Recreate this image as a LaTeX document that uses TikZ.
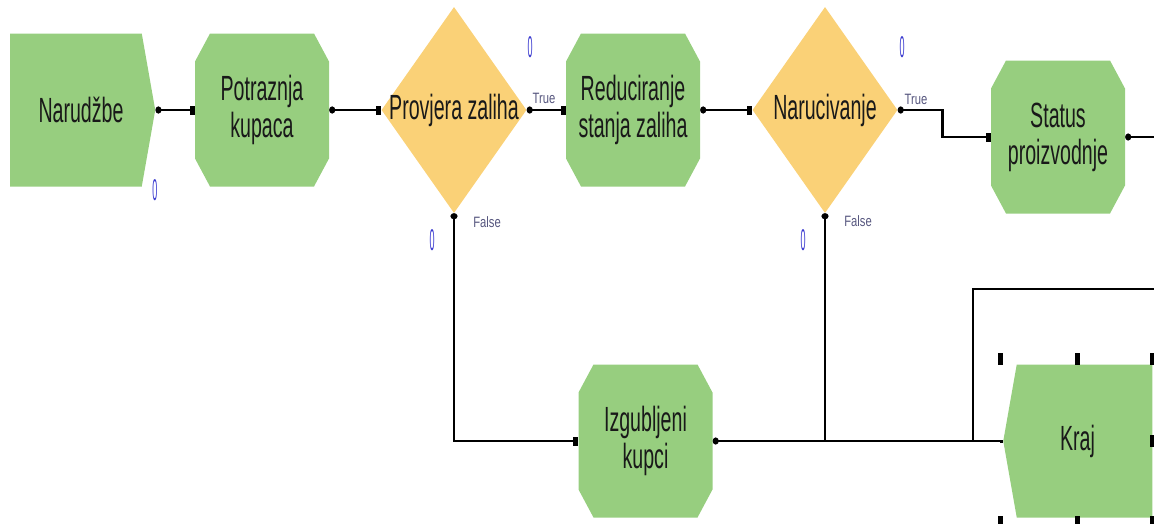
\documentclass[tikz,border=0pt]{standalone}
\usepackage{fontspec}
\setmainfont{Liberation Sans}[FakeStretch=0.56]
\newfontfamily\zerofont{Liberation Sans}[FakeStretch=0.3]
\newfontfamily\tagfont{Liberation Sans}[FakeStretch=0.75]
\usetikzlibrary{arrows.meta, positioning, shapes.geometric, shapes.symbols, calc}
\definecolor{blockgreen}{HTML}{97CE7F}
\definecolor{decideyellow}{HTML}{FAD177}
\definecolor{countblue}{HTML}{3A3ACF}
\definecolor{tagblue}{HTML}{56567E}

\begin{document}
\begin{tikzpicture}[x=1pt, y=-1pt,
    every node/.style={font=\fontsize{35}{37}\selectfont, text=black!90, inner sep=0pt, align=center},
    process/.style={rectangle, minimum width=134pt, minimum height=153pt, path picture={
        \fill[blockgreen] ($(path picture bounding box.north west)+(15,0)$)
            -- ($(path picture bounding box.north east)+(-15,0)$) -- ($(path picture bounding box.north east)+(0,28)$)
            -- ($(path picture bounding box.south east)+(0,-28)$) -- ($(path picture bounding box.south east)+(-15,0)$)
            -- ($(path picture bounding box.south west)+(15,0)$) -- ($(path picture bounding box.south west)+(0,-28)$)
            -- ($(path picture bounding box.north west)+(0,28)$) -- cycle;}},
    terminal/.style={signal, signal pointer angle=160, fill=blockgreen, minimum height=153pt},
    decide/.style={diamond, fill=decideyellow, minimum width=145pt, minimum height=206pt},
    count/.style={font=\zerofont\fontsize{30}{30}\selectfont, text=countblue},
    tag/.style={font=\tagfont\fontsize{15}{15}\selectfont, text=tagblue},
    flow/.style={line width=2.5pt, {Circle[length=6pt,width=7pt]}-{Square[length=5pt,width=9pt]}},
    branch/.style={line width=2pt, {Circle[length=6pt,width=7pt]}-},
    wire/.style={line width=2pt}
]
\useasboundingbox (0,0) rectangle (1154,523);
% Blocks
\node[terminal, signal to=east, minimum width=145pt, label={[xshift=5pt]center:Narudžbe}] (ordr) at (76,110) {};
\node[process] (potr) at (262,110) {Potraznja\\kupaca};
\node[decide, label=center:{Provjera zaliha}] (provj) at (454,110) {};
\node[process] (redu) at (633,110) {Reduciranje\\stanja zaliha};
\node[decide, label=center:{Narucivanje}] (naruc) at (825,110) {};
\node[process] (stat) at (1058,137) {Status\\proizvodnje};
\node[process] (izgub) at (645.5,441) {Izgubljeni\\kupci};
\node[terminal, signal to=west, minimum width=149pt, label={[xshift=-7pt]center:Kraj}] (kraj) at (1084.5,441) {};
% Free ends
\coordinate (statout) at (1154,137);
\coordinate (krajup) at (1154,289);
\coordinate (krajjoin) at ($(kraj.west)+(-30,0)$);
\coordinate (narjoin) at (naruc.south |- izgub.east);
% Connectors
\draw[flow] (ordr.east) -- (potr.west);
\draw[flow] (potr.east) -- (provj.west);
\draw[flow] (provj.east) -- (redu.west);
\draw[flow] (redu.east) -- (naruc.west);
\draw[flow] (naruc.east) -- ++(45,0) |- (stat.west);
\draw[branch] (stat.east) -- (statout);
\draw[flow, line width=2pt] (provj.south) |- (izgub.west);
\draw[line width=2pt, {Circle[length=6pt,width=7pt]}-{Square[length=3pt,width=3pt]}] (izgub.east) -- (kraj.west);
\draw[branch] (naruc.south) -- (narjoin);
\draw[wire] (krajjoin) |- (krajup);
% Branch labels
\node[tag] (truea) at (544,98) {True};
\node[tag] (trueb) at (916,99) {True};
\node[tag] (falsea) at (487,222) {False};
\node[tag] (falseb) at (858,221) {False};
% Counters
\node[count] (cnta) at (155,190) {0};
\node[count] (cntb) at (530,47) {0};
\node[count] (cntc) at (432,240) {0};
\node[count] (cntd) at (902,47) {0};
\node[count] (cnte) at (803,240) {0};
% Selection handles
\foreach \hx/\hy in {-84.5/-82, -7.5/-82, 67.5/-82, 67.5/0, -84.5/81, -7.5/81, 67.5/81} {
    \fill ($(kraj.center)+(\hx-2.5,\hy-6)$) rectangle ++(5,12);
}
\end{tikzpicture}
\end{document}
